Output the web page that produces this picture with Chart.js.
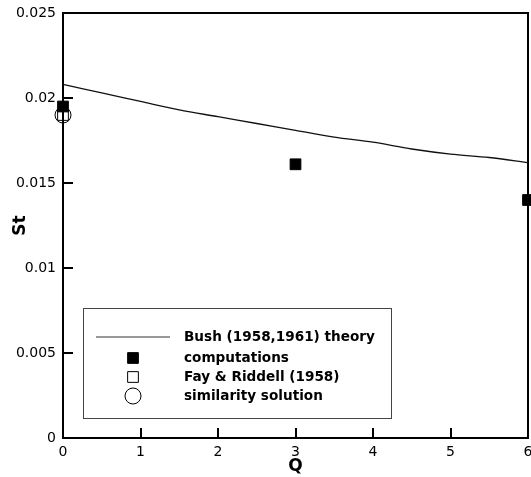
<!DOCTYPE html>
<html>
<head>
<meta charset="utf-8">
<script src="https://cdn.jsdelivr.net/npm/chart.js@4.4.1/dist/chart.umd.min.js"></script>
<style>
  html, body { margin: 0; padding: 0; background: #fff; }
  #wrap { width: 531px; height: 477px; position: relative; }
</style>
</head>
<body>
<div id="wrap"><canvas id="c" width="531" height="477"></canvas></div>
<script>
// ---- data ----
const theoryQ  = [0, 0.5, 1, 1.5, 2, 2.5, 3, 3.5, 4, 4.5, 5, 5.5, 6];
const theorySt = [0.0208, 0.0203, 0.0198, 0.0193, 0.0189, 0.0185, 0.0181, 0.0177, 0.0174, 0.0170, 0.0167, 0.0165, 0.0162];
const compQ    = [0, 3, 6];
const compSt   = [0.0195, 0.0161, 0.0140];
const fayQ     = [0];
const faySt    = [0.0190];
const simQ     = [0];
const simSt    = [0.0190];
const xTickValues = [0, 1, 2, 3, 4, 5, 6];
const xTickLabels = ['0', '1', '2', '3', '4', '5', '6'];
const yTickValues = [0, 0.005, 0.01, 0.015, 0.02, 0.025];
const yTickLabels = ['0', '0.005', '0.01', '0.015', '0.02', '0.025'];
const seriesLabels = ['Bush (1958,1961) theory', 'computations', 'Fay & Riddell (1958)', 'similarity solution'];
const xTitle = 'Q';
const yTitle = 'St';

const pts = (xs, ys) => xs.map((x, i) => ({ x: x, y: ys[i] }));
const FONT = '"DejaVu Sans", "Liberation Sans", Arial, sans-serif';

const frameAndTicks = {
  id: 'frameAndTicks',
  beforeDatasetsDraw(chart) {
    const { ctx, chartArea: a, scales } = chart;
    ctx.save();
    ctx.strokeStyle = '#000';
    ctx.lineWidth = 2;
    ctx.strokeRect(a.left, a.top, a.right - a.left, a.bottom - a.top);
    ctx.beginPath();
    scales.x.ticks.forEach(t => {
      const px = Math.round(scales.x.getPixelForValue(t.value));
      if (px <= a.left + 1 || px >= a.right - 1) return;
      ctx.moveTo(px, a.bottom);
      ctx.lineTo(px, a.bottom - 10);
    });
    scales.y.ticks.forEach(t => {
      const py = Math.round(scales.y.getPixelForValue(t.value));
      if (py <= a.top + 1 || py >= a.bottom - 1) return;
      ctx.moveTo(a.left, py);
      ctx.lineTo(a.left + 10, py);
    });
    ctx.stroke();
    ctx.restore();
  }
};

const boxLegend = {
  id: 'boxLegend',
  afterDraw(chart) {
    const { ctx } = chart;
    const ds = chart.data.datasets;
    const bx = 83, by = 308, bw = 308, bh = 110;
    ctx.save();
    ctx.fillStyle = '#fff';
    ctx.fillRect(bx, by, bw, bh);
    ctx.strokeStyle = '#444';
    ctx.lineWidth = 1;
    ctx.strokeRect(bx + 0.5, by + 0.5, bw, bh);
    const rows = [337, 358, 377, 396];
    const mx = 133, tx = 184;
    ctx.strokeStyle = '#333';
    ctx.lineWidth = 1.2;
    ctx.beginPath();
    ctx.moveTo(96, rows[0]); ctx.lineTo(170, rows[0]);
    ctx.stroke();
    for (let i = 1; i < 4; i++) {
      const d = ds[i];
      ctx.strokeStyle = d.borderColor;
      ctx.fillStyle = d.backgroundColor;
      ctx.lineWidth = d.borderWidth;
      Chart.helpers.drawPoint(ctx, { pointStyle: d.pointStyle, radius: d.pointRadius, rotation: 0, borderWidth: d.borderWidth }, mx, rows[i]);
    }
    ctx.fillStyle = '#000';
    ctx.font = 'bold 13.6px ' + FONT;
    ctx.textBaseline = 'middle';
    ctx.textAlign = 'left';
    for (let i = 0; i < 4; i++) ctx.fillText(ds[i].label, tx, rows[i]);
    ctx.restore();
  }
};

new Chart(document.getElementById('c'), {
  type: 'scatter',
  data: {
    datasets: [
      { label: seriesLabels[0], data: pts(theoryQ, theorySt), showLine: true, pointRadius: 0,
        borderColor: '#111', borderWidth: 1.3, backgroundColor: '#111', cubicInterpolationMode: 'monotone', clip: false },
      { label: seriesLabels[1], data: pts(compQ, compSt), pointStyle: 'rect', pointRadius: 7.6,
        borderColor: '#000', backgroundColor: '#000', borderWidth: 1, clip: false },
      { label: seriesLabels[2], data: pts(fayQ, faySt), pointStyle: 'rect', pointRadius: 7.6,
        borderColor: '#000', backgroundColor: 'rgba(0,0,0,0)', borderWidth: 1, clip: false },
      { label: seriesLabels[3], data: pts(simQ, simSt), pointStyle: 'circle', pointRadius: 8,
        borderColor: '#000', backgroundColor: 'rgba(0,0,0,0)', borderWidth: 1, clip: false }
    ]
  },
  options: {
    responsive: false,
    animation: false,
    events: [],
    layout: { autoPadding: false, padding: { top: 13, right: 3, left: 0, bottom: 0 } },
    plugins: { legend: { display: false }, tooltip: { enabled: false } },
    scales: {
      x: {
        type: 'linear', min: 0, max: 6,
        afterFit(s) { s.height = 39; s.paddingLeft = 0; s.paddingRight = 0; },
        afterBuildTicks(s) { s.ticks = xTickValues.map(v => ({ value: v })); },
        grid: { display: false, drawTicks: false },
        border: { display: false },
        ticks: {
          padding: 6, color: '#000', maxRotation: 0, autoSkip: false,
          font: { family: FONT, size: 14 },
          callback: (v) => xTickLabels[xTickValues.indexOf(v)]
        },
        title: { display: true, text: xTitle, color: '#000', padding: { top: 0, bottom: 0 },
          font: { family: FONT, size: 17, weight: 'bold' } }
      },
      y: {
        type: 'linear', min: 0, max: 0.025,
        afterFit(s) { s.width = 63; s.paddingTop = 0; s.paddingBottom = 0; },
        afterBuildTicks(s) { s.ticks = yTickValues.map(v => ({ value: v })); },
        grid: { display: false, drawTicks: false },
        border: { display: false },
        ticks: {
          padding: 7, color: '#000', autoSkip: false,
          font: { family: FONT, size: 14 },
          callback: (v) => yTickLabels[yTickValues.findIndex(t => Math.abs(t - v) < 1e-9)]
        },
        title: { display: true, text: yTitle, color: '#000', padding: { top: 10, bottom: 0 },
          font: { family: FONT, size: 17, weight: 'bold' } }
      }
    }
  },
  plugins: [frameAndTicks, boxLegend]
});
</script>
</body>
</html>
